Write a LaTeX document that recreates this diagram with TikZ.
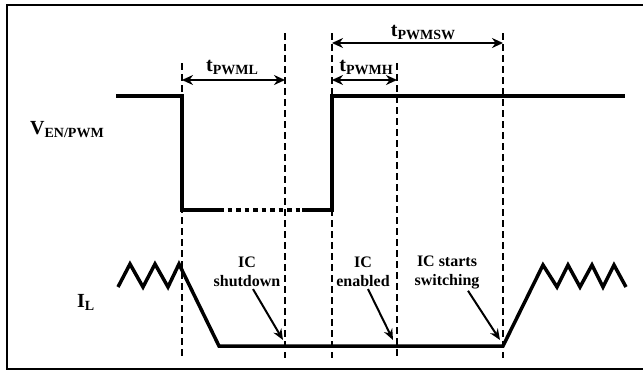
\documentclass[tikz,border=0pt]{standalone}
\usepackage{fontspec}
\setmainfont{Liberation Serif}
\usetikzlibrary{arrows.meta}
\newcommand{\sigsub}[2]{{\fontsize{20}{20}\selectfont #1}\raisebox{-3.5pt}{\fontsize{14}{14}\selectfont #2}}

\begin{document}
\begin{tikzpicture}[
  x=1pt, y=-1pt,
  wave/.style={line width=3.5pt},
  guide/.style={line width=2pt, dash pattern=on 7pt off 4pt},
  span/.style={line width=2pt, {Stealth[length=11pt,width=10pt]}-{Stealth[length=11pt,width=10pt]}},
  pointer/.style={line width=2pt, -{Stealth[length=11pt,width=9pt]}},
  note/.style={font=\bfseries\fontsize{16}{19}\selectfont, align=center, inner sep=0pt},
  every node/.style={font=\bfseries, inner sep=0pt}
]
  \useasboundingbox (0,0) rectangle (643,370);
  \draw[line width=2pt] (7,5) rectangle (660,369);

  % guide lines
  \foreach \n/\x/\t in {a/182/63, b/285/33, c/332/33, d/397/63, e/503/33} {
    \coordinate (\n top) at (\x,\t);
    \coordinate (\n bot) at (\x,358);
    \draw[guide] (\n top) -- (\n bot);
  }

  % EN/PWM signal
  \coordinate (h0) at (116,96);
  \coordinate (h1) at (182,96);
  \coordinate (l1) at (182,210);
  \coordinate (l2) at (219,210);
  \coordinate (l3) at (302,210);
  \coordinate (l4) at (332,210);
  \coordinate (h2) at (332,96);
  \coordinate (h3) at (625,96);
  \draw[wave] (h0) -- (h1) -- (l1) -- (l2);
  \draw[wave, dash pattern=on 4.5pt off 4pt] (l2) -- (l3);
  \draw[wave] (l3) -- (l4) -- (h2) -- (h3);

  % timing spans
  \coordinate (pwmlL) at (182,80);
  \coordinate (pwmlR) at (285,80);
  \coordinate (pwmhL) at (332,80);
  \coordinate (pwmhR) at (397,80);
  \coordinate (pwmswL) at (332,43);
  \coordinate (pwmswR) at (503,43);
  \draw[span] (pwmlL) -- (pwmlR);
  \draw[span] (pwmhL) -- (pwmhR);
  \draw[span] (pwmswL) -- (pwmswR);
  \node[anchor=base] (tpwml) at (232,71) {\sigsub{t}{PWML}};
  \node[anchor=base] (tpwmh) at (366,71) {\sigsub{t}{PWMH}};
  \node[anchor=base] (tpwmsw) at (423,36) {\sigsub{t}{PWMSW}};

  % signal names
  \node[anchor=base west] (ven) at (30,134) {\sigsub{V}{EN/PWM}};
  \node[anchor=base west] (il) at (77,307) {\sigsub{I}{L}};

  % inductor current
  \draw[wave] (118,287) -- (130,264) -- (143,287) -- (155,264) -- (168,287)
    -- (179,264) -- (219,346) -- (503,346) -- (543,265) -- (557,287)
    -- (568,265) -- (580,287) -- (592,265) -- (603,287) -- (614,265) -- (626,287);

  % events
  \node[note] (shut) at (247,272) {IC\\shutdown};
  \node[note] (enab) at (363,272) {IC\\enabled};
  \node[note] (sw) at (447,272) {IC starts\\switching};
  \coordinate (shutTip) at (283,340);
  \coordinate (enabTip) at (393,340);
  \coordinate (swTip) at (500,340);
  \draw[pointer] ([xshift=6pt,yshift=-2pt]shut.south) -- (shutTip);
  \draw[pointer] ([xshift=5pt,yshift=-2pt]enab.south) -- (enabTip);
  \draw[pointer] ([xshift=21pt,yshift=-2pt]sw.south) -- (swTip);

\end{tikzpicture}
\end{document}
